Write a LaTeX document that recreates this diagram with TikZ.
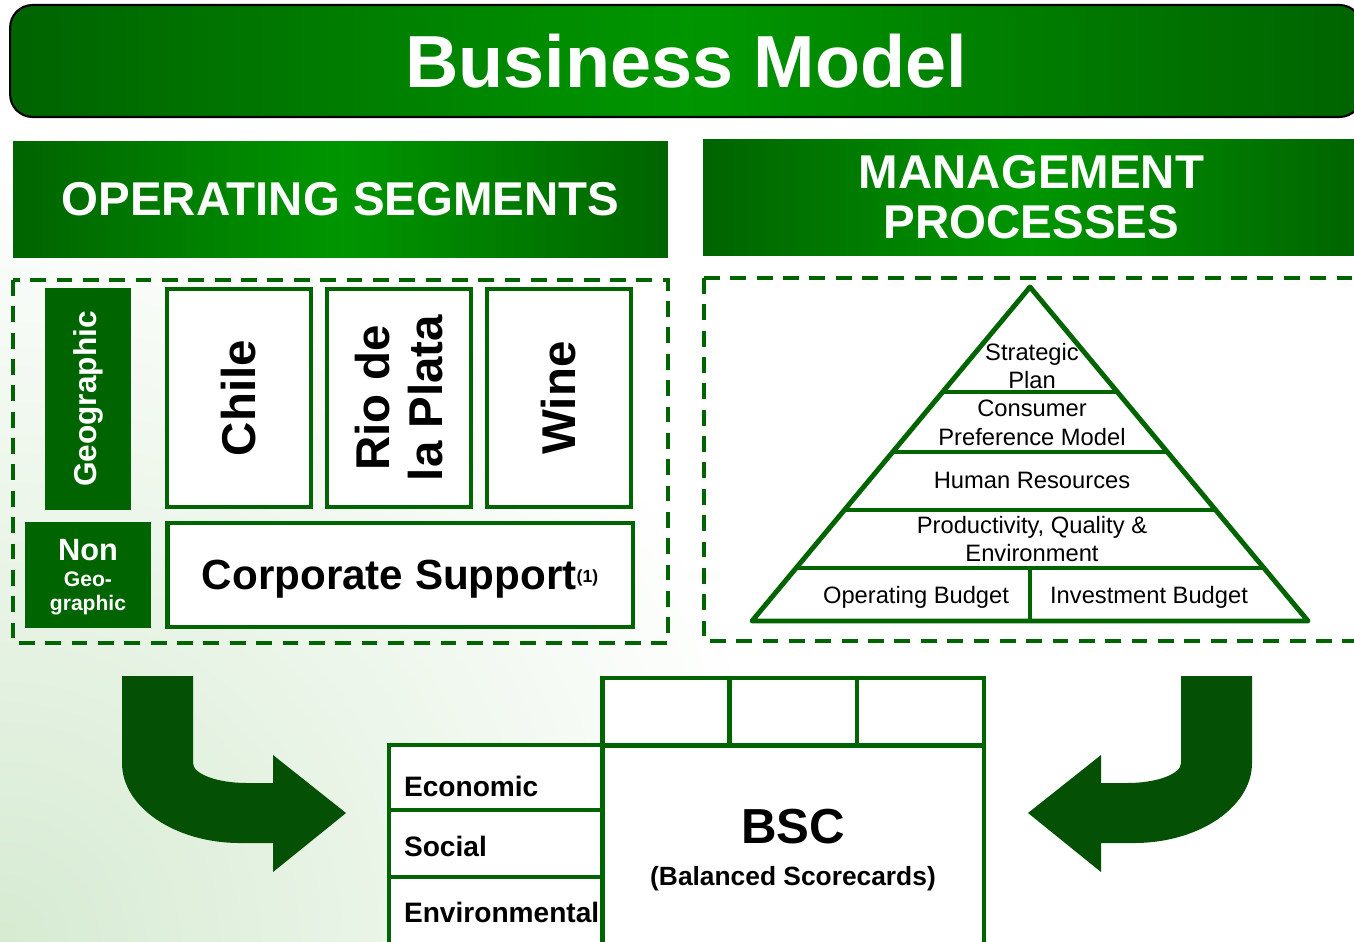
\documentclass[tikz,border=0pt]{standalone}
\usepackage{fontspec}
\setmainfont{Liberation Sans}
\usetikzlibrary{calc, positioning}

\definecolor{dkgreen}{RGB}{0,100,0}
\definecolor{brgreen}{RGB}{0,150,0}
\definecolor{arrowgreen}{RGB}{4,80,4}
\definecolor{bgtint}{RGB}{214,235,210}

\begin{document}
\begin{tikzpicture}[x=0.02cm, y=-0.02cm]
\tikzset{
  banner/.style={left color=dkgreen, right color=dkgreen, middle color=brgreen,
                 text=white, inner sep=0pt, align=center},
  region/.style={draw=dkgreen, line width=2.2pt, dash pattern=on 9pt off 6pt},
  geo/.style={fill=dkgreen, text=white, inner sep=0pt, align=center},
  segment/.style={draw=dkgreen, fill=white, line width=2.8pt, rotate=90,
                  minimum width=4.36cm, minimum height=2.88cm, inner sep=0pt,
                  align=center, font=\bfseries\fontsize{27}{30}\selectfont},
  pyramid/.style={draw=dkgreen, line width=2.8pt, line join=round},
  level/.style={inner sep=0pt, align=center, font=\fontsize{13.5}{16.4}\selectfont},
  cell/.style={draw=dkgreen, fill=white, line width=2.8pt, inner sep=0pt},
  pillar/.style={cell, minimum width=4.26cm, text width=3.66cm, inner xsep=0.3cm,
                 text depth=0pt, align=left, font=\bfseries\fontsize{16}{19}\selectfont},
  bendarrow/.style={fill=arrowgreen}
  }

\useasboundingbox (0,0) rectangle (1354,941);

% faint tint in the lower left corner
\begin{scope}
\clip (0,0) rectangle (1354,941);
\shade[inner color=bgtint, outer color=white] (0,941) circle (16cm);
\end{scope}

% headers
\node[banner, draw=black, line width=1.2pt, rounded corners=0.45cm,
      minimum width=27.04cm, minimum height=2.24cm,
      font=\bfseries\fontsize{42}{48}\selectfont] (title) at (686,61) {Business Model};
\node[banner, minimum width=13.1cm, minimum height=2.32cm,
      font=\bfseries\fontsize{27}{28.5}\selectfont] (opseg) at (340.5,199) {OPERATING SEGMENTS};
\node[banner, minimum width=13.14cm, minimum height=2.32cm,
      font=\bfseries\fontsize{27}{28.5}\selectfont] (mgmt) at (1031.5,197) {MANAGEMENT\\PROCESSES};

% operating segments
\draw[region] (13,280) rectangle (668,643);
\node[geo, rotate=90, minimum width=4.44cm, minimum height=1.72cm,
      font=\bfseries\fontsize{18}{20}\selectfont] (geo) at (88,399) {Geographic};
\node[segment] (chile) at (239,398) {Chile};
\node[segment] (plata) at (399,398) {Rio de\\la Plata};
\node[segment] (wine)  at (559,398) {Wine};
\node[geo, minimum width=2.52cm, minimum height=2.12cm, text depth=0pt,
      font=\bfseries\fontsize{12}{13.5}\selectfont] (nongeo) at (88,575)
      {{\fontsize{17.5}{13}\selectfont Non}\\[1pt]Geo-\\graphic};
\node[cell, minimum width=9.32cm, minimum height=2.08cm, text depth=0pt,
      font=\bfseries\fontsize{24}{28}\selectfont] (corp) at (400,575)
      {Corporate Support\raisebox{4pt}{\fontsize{10}{10}\selectfont(1)}};

% management processes
\draw[region] (704,278) -- (1370,278) (704,278) -- (704,641) -- (1370,641);
\coordinate (top) at (1030,287);
\coordinate (bl)  at (752,621);
\coordinate (br)  at (1308,621);
\draw[pyramid] (top) -- (bl) -- (br) -- cycle;
\foreach \y in {392,452,510,568}
  \draw[pyramid] ($(top)!{(\y-287)/334}!(bl)$) -- ($(top)!{(\y-287)/334}!(br)$);
\draw[pyramid] (1030,568) -- (1030,621);

\node[level] (strat)  at (1032,366) {Strategic\\Plan};
\node[level] (consum) at (1032,423) {Consumer\\Preference Model};
\node[level] (human)  at (1032,480) {Human Resources};
\node[level] (prod)   at (1032,539) {Productivity, Quality \&\\Environment};
\node[level] (opbud)  at (916,597)  {Operating Budget};
\node[level] (invbud) at (1149,597) {Investment Budget};

% balanced scorecard
\foreach \x/\n in {666/c1, 793.5/c2, 920.5/c3}
  \node[cell, minimum width=2.54cm, minimum height=1.34cm] (\n) at (\x,711.5) {};
\node[cell, minimum width=7.64cm, minimum height=4cm] (bsc) at (793,845) {};
\node[align=center, inner sep=0pt] (bsctext) at (793,850)
  {{\bfseries\fontsize{28}{30}\selectfont BSC}\\[12pt]
   {\bfseries\fontsize{15}{18}\selectfont (Balanced Scorecards)}};
\node[pillar, minimum height=1.3cm,  text height=22pt]   (eco) at (495.5,777.5) {Economic};
\node[pillar, minimum height=1.34cm, text height=15.3pt] (soc) at (495.5,843.5) {Social};
\node[pillar, minimum height=1.36cm, text height=13.6pt] (env) at (495.5,911)   {Environmental};

% bent arrows into the scorecard
\foreach \s/\o in {1/0, -1/1374}
  \fill[bendarrow, shift={(\o,0)}, xscale=\s]
    (122,676) -- (193,676) -- (193,763) .. controls (193,774) and (217,783) .. (247,783)
    -- (273,783) -- (273,755) -- (346,813) -- (273,872) -- (273,843) -- (240,843)
    .. controls (175,843) and (122,807) .. (122,763) -- cycle;

\end{tikzpicture}
\end{document}
